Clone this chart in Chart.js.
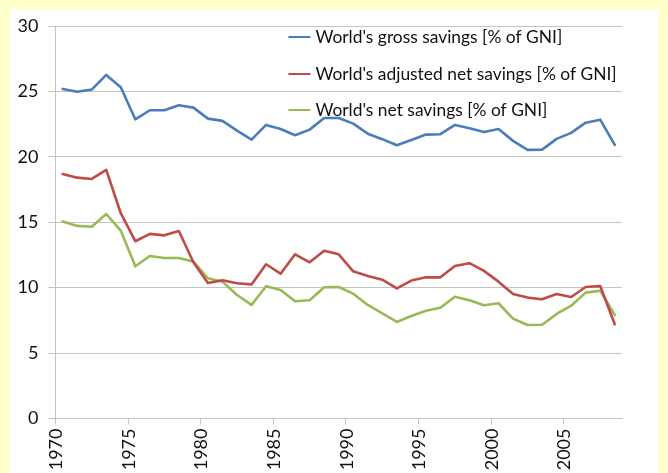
<!DOCTYPE html>
<html>
<head>
<meta charset="utf-8">
<script src="https://cdn.jsdelivr.net/npm/chart.js@4"></script>
<style>
  html, body { margin: 0; padding: 0; background: #FFFFCC; width: 668px; height: 473px; overflow: hidden; }
  #box { position: absolute; left: 10px; top: 9px; width: 648px; height: 464px; background: #FFFFFF; }
  canvas { display: block; }
</style>
</head>
<body>
<div id="box"><canvas id="c" width="648" height="464"></canvas></div>
<script>
const years = [1970,1971,1972,1973,1974,1975,1976,1977,1978,1979,1980,1981,1982,1983,1984,1985,1986,1987,1988,1989,1990,1991,1992,1993,1994,1995,1996,1997,1998,1999,2000,2001,2002,2003,2004,2005,2006,2007,2008];
const grossSavings = [25.19,24.98,25.14,26.26,25.32,22.87,23.56,23.56,23.94,23.76,22.92,22.75,22.0,21.32,22.44,22.13,21.65,22.08,22.97,22.97,22.54,21.77,21.35,20.89,21.29,21.70,21.73,22.44,22.19,21.90,22.13,21.22,20.53,20.55,21.37,21.83,22.61,22.84,20.91];
const adjustedNetSavings = [18.69,18.41,18.31,19.0,15.69,13.55,14.11,14.0,14.33,11.94,10.36,10.57,10.34,10.25,11.79,11.07,12.55,11.94,12.83,12.55,11.25,10.89,10.61,9.95,10.54,10.79,10.79,11.66,11.87,11.28,10.46,9.52,9.24,9.11,9.52,9.29,10.05,10.13,7.20];
const netSavings = [15.05,14.72,14.66,15.63,14.36,11.64,12.42,12.27,12.27,11.99,10.72,10.46,9.44,8.68,10.11,9.82,8.96,9.04,10.03,10.05,9.54,8.68,8.04,7.38,7.84,8.24,8.47,9.31,9.04,8.65,8.81,7.63,7.15,7.17,7.99,8.62,9.62,9.77,7.91];
const seriesLabels = ["World's gross savings [% of GNI]", "World's adjusted net savings [% of GNI]", "World's net savings [% of GNI]"];
const yTicks = [0,5,10,15,20,25,30];

const FONT = 'Lato, "Noto Sans", sans-serif';
const GRID = '#C4C4C4';
const TEXT = '#111111';

const insideLegend = {
  id: 'insideLegend',
  afterDatasetsDraw(chart) {
    const ctx = chart.ctx;
    const a = chart.chartArea;
    const x0 = a.left + 233;
    const rows = [a.top + 11, a.top + 48, a.top + 84];
    ctx.save();
    ctx.font = '17.4px ' + FONT;
    ctx.textBaseline = 'middle';
    ctx.textAlign = 'left';
    chart.data.datasets.forEach((ds, i) => {
      const y = rows[i];
      ctx.strokeStyle = ds.borderColor;
      ctx.lineWidth = 2;
      ctx.beginPath();
      ctx.moveTo(x0, y);
      ctx.lineTo(x0 + 22, y);
      ctx.stroke();
      ctx.fillStyle = TEXT;
      ctx.fillText(ds.label, x0 + 27, y);
    });
    ctx.restore();
  }
};

new Chart(document.getElementById('c'), {
  type: 'line',
  data: {
    labels: years.map(String),
    datasets: [
      { label: seriesLabels[0], data: grossSavings, borderColor: '#4A7EBB', backgroundColor: '#4A7EBB' },
      { label: seriesLabels[1], data: adjustedNetSavings, borderColor: '#BE4B48', backgroundColor: '#BE4B48' },
      { label: seriesLabels[2], data: netSavings, borderColor: '#98B954', backgroundColor: '#98B954' }
    ]
  },
  options: {
    responsive: false,
    animation: false,
    devicePixelRatio: 1,
    layout: { padding: { left: 0, right: 36, top: 17, bottom: 0 } },
    elements: {
      point: { radius: 0 },
      line: { borderWidth: 2.6, tension: 0, borderJoinStyle: 'round', borderCapStyle: 'round' }
    },
    plugins: { legend: { display: false }, tooltip: { enabled: false } },
    scales: {
      x: {
        type: 'category',
        offset: true,
        grid: {
          offset: true,
          drawOnChartArea: false,
          drawTicks: true,
          tickLength: 6,
          color: (c) => (c.index % 5 === 0 ? GRID : 'rgba(0,0,0,0)')
        },
        border: { display: true, color: GRID, width: 1 },
        ticks: {
          autoSkip: false,
          maxRotation: 90,
          minRotation: 90,
          labelOffset: -6.5,
          padding: 4,
          color: TEXT,
          font: { family: FONT, size: 18 },
          callback: function (v, i) { return years[i] % 5 === 0 ? String(years[i]) : ''; }
        },
        afterFit: (s) => { s.height = 54.5; s.paddingLeft = 0; s.paddingRight = 0; s.paddingTop = 0; s.paddingBottom = 0; }
      },
      y: {
        min: 0,
        max: 30,
        afterBuildTicks: (s) => { s.ticks = yTicks.map(v => ({ value: v })); },
        grid: { color: GRID, tickLength: 7, drawTicks: true },
        border: { display: true, color: GRID, width: 1 },
        ticks: {
          padding: 10,
          color: TEXT,
          font: { family: FONT, size: 18 }
        },
        afterFit: (s) => { s.width = 45.4; s.paddingTop = 0; s.paddingBottom = 0; s.paddingLeft = 0; s.paddingRight = 0; }
      }
    }
  },
  plugins: [insideLegend]
});
</script>
</body>
</html>
